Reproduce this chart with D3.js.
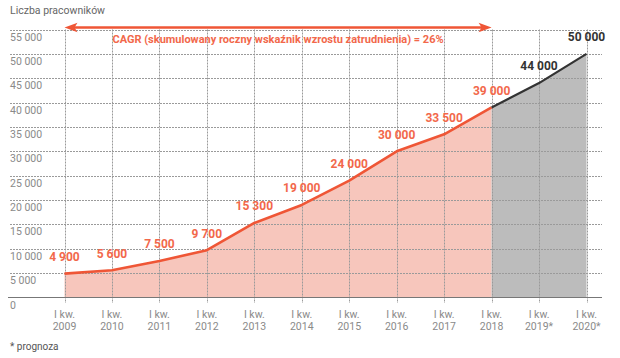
<!DOCTYPE html>
<html><head><meta charset="utf-8">
<script src="https://cdn.jsdelivr.net/npm/d3@7"></script>
<style>
html,body{margin:0;padding:0;background:#fff;}
svg{display:block;font-family:Roboto, "Open Sans", sans-serif;}
</style></head>
<body>
<svg id="chart" width="620" height="358"></svg>
<script>
const years = ["2009","2010","2011","2012","2013","2014","2015","2016","2017","2018","2019*","2020*"];
const quarterLabel = "I kw.";
const actualValues = [4900, 5600, 7500, 9700, 15300, 19000, 24000, 30000, 33500, 39000];
const forecastValues = [39000, 44000, 50000];
const forecastYears = ["2018","2019*","2020*"];
const yTicks = [0,5000,10000,15000,20000,25000,30000,35000,40000,45000,50000,55000];
const yTitle = "Liczba pracowników";
const cagrText = "CAGR (skumulowany roczny wskaźnik wzrostu zatrudnienia) = 26%";
const footnote = "* prognoza";

const red = "#ef5636", redLabel = "#f2684b", pink = "#f7c6bc", grey = "#bcbcbc", dark = "#333333";
const svg = d3.select("#chart");
const x = d3.scalePoint().domain(years).range([64.5, 586.5]);
const y = d3.scaleLinear().domain([0, 55000]).range([297.5, 29.5]);
const fmt = v => d3.format(",")(v).replace(/,/g, " ");

const actual = actualValues.map((v,i)=>({k:years[i], v}));
const forecast = forecastValues.map((v,i)=>({k:forecastYears[i], v}));

const area = d3.area().x(d=>x(d.k)).y0(y(0)).y1(d=>y(d.v));
const line = d3.line().x(d=>x(d.k)).y(d=>y(d.v));

svg.append("path").datum(actual).attr("d", area).attr("fill", pink);
svg.append("path").datum(forecast).attr("d", area).attr("fill", grey);

// gridlines
const grid = svg.append("g").attr("stroke", "#9a9a9a").attr("stroke-width", 1).attr("stroke-dasharray", "2,1");
grid.selectAll("line.h").data(yTicks.filter(t=>t>0)).join("line")
  .attr("x1", 10).attr("x2", 602).attr("y1", d=>Math.round(y(d))+0.5).attr("y2", d=>Math.round(y(d))+0.5);
grid.selectAll("line.v").data(years).join("line")
  .attr("x1", d=>Math.round(x(d))+0.5).attr("x2", d=>Math.round(x(d))+0.5)
  .attr("y1", y(55000)).attr("y2", 303);

// baseline axis
svg.append("line").attr("x1", 8).attr("x2", 602).attr("y1", y(0)).attr("y2", y(0))
  .attr("stroke", "#777").attr("stroke-width", 1.2);

// y labels
svg.append("g").selectAll("text").data(yTicks).join("text")
  .attr("x", 10).attr("y", d=>y(d)+11).attr("font-size", 10.5).attr("fill", "#8a8a8a")
  .text(d=>fmt(d));

// x labels
const xl = svg.append("g").attr("font-size", 10.5).attr("fill", "#8a8a8a").attr("text-anchor", "middle");
xl.selectAll("text.q").data(years).join("text").attr("x", d=>x(d)).attr("y", 318).text(quarterLabel);
xl.selectAll("text.yr").data(years).join("text").attr("x", d=>x(d)).attr("y", 329.5).text(d=>d);

// lines
svg.append("path").datum(actual).attr("d", line).attr("fill", "none").attr("stroke", red).attr("stroke-width", 2.6).attr("stroke-linejoin","round");
svg.append("path").datum(forecast).attr("d", line).attr("fill", "none").attr("stroke", dark).attr("stroke-width", 2.2).attr("stroke-linejoin","round");

// value labels
svg.append("g").attr("font-size", 12).attr("font-weight", "bold").attr("text-anchor", "middle")
  .selectAll("text").data(actual.concat(forecast.slice(1))).join("text")
  .attr("x", d=>x(d.k)).attr("y", d=>y(d.v)-12.7)
  .attr("fill", (d,i)=> i < actual.length ? redLabel : dark)
  .text(d=>fmt(d.v));

// CAGR arrow
const ax1 = x(years[0]), ax2 = x("2018"), ay = 27.5;
svg.append("line").attr("x1", ax1+8).attr("x2", ax2-8).attr("y1", ay).attr("y2", ay).attr("stroke", red).attr("stroke-width", 2.4);
svg.append("path").attr("d", `M${ax1},${ay} L${ax1+13},${ay-4.8} L${ax1+10},${ay} L${ax1+13},${ay+4.8} Z`).attr("fill", red);
svg.append("path").attr("d", `M${ax2},${ay} L${ax2-13},${ay-4.8} L${ax2-10},${ay} L${ax2-13},${ay+4.8} Z`).attr("fill", red);
svg.append("text").attr("x", (ax1+ax2)/2).attr("y", 43.3).attr("text-anchor", "middle")
  .attr("font-size", 11).attr("font-weight", "bold").attr("fill", redLabel).text(cagrText);

// title & footnote
svg.append("text").attr("x", 10).attr("y", 14).attr("font-size", 10.5).attr("fill", "#666").text(yTitle);
svg.append("text").attr("x", 10).attr("y", 349.5).attr("font-size", 10).attr("fill", "#555").text(footnote);
</script>
</body></html>
